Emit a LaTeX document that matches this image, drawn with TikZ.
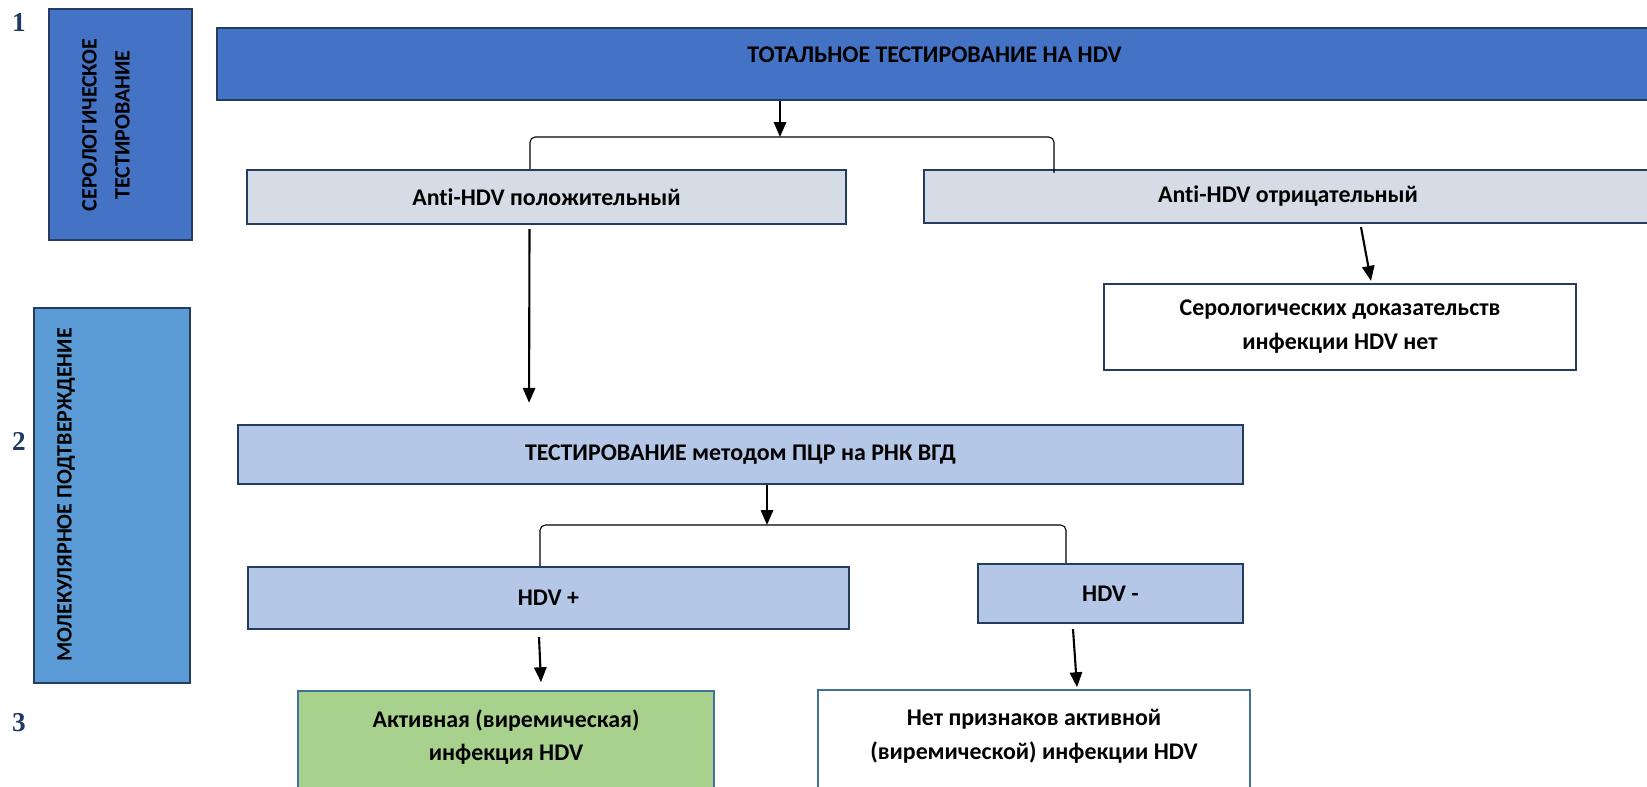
\documentclass[tikz,border=0pt]{standalone}
\usepackage{fontspec}
\setmainfont[Ligatures=NoCommon]{Carlito}
\newfontfamily\numfont{Liberation Serif}
\usepackage{xcolor}
\usepackage{tikz}
\usetikzlibrary{arrows.meta, calc}
\definecolor{headColor}{RGB}{68, 114, 196}
\definecolor{sideColor}{RGB}{91, 155, 213}
\definecolor{antiColor}{RGB}{214, 220, 229}
\definecolor{pcrColor}{RGB}{180, 199, 231}
\definecolor{activeColor}{RGB}{169, 209, 142}
\definecolor{lineColor}{RGB}{36, 60, 96}
\definecolor{softLine}{RGB}{65, 113, 156}
\definecolor{numColor}{RGB}{31, 56, 100}

\begin{document}
\begin{tikzpicture}[x=0.02cm, y=-0.02cm, font=\bfseries\fontsize{13.6}{19.3}\selectfont,
		box/.style={draw=lineColor, line width=1.3pt, rectangle, inner sep=0pt, align=center},
		resbox/.style={draw=softLine, line width=0.9pt, rectangle, inner sep=0pt, align=center},
		arr/.style={-{Triangle[length=8.5pt, width=7pt]}, line width=1.2pt},
		fork/.style={line width=0.6pt, rounded corners=3pt},
		num/.style={text=numColor, font=\numfont\bfseries\fontsize{15.5}{15.5}\selectfont},
		sidetext/.style={rotate=90, align=center, font=\bfseries\fontsize{12.5}{18.7}\selectfont}]
					\useasboundingbox (0, 0) rectangle (1647, 787);
					
					% Stage numbers
					\node[num] (n1) at (19, 23) {1};
					\node[num] (n2) at (19, 441) {2};
					\node[num] (n3) at (19, 723) {3};
					
					% Side bars
					\node[box, fill=headColor, minimum width=2.86cm, minimum height=4.62cm] (ser) at (120.5, 124.5) {};
					\node[sidetext] (sertxt) at (106, 125) {СЕРОЛОГИЧЕСКОЕ\\ТЕСТИРОВАНИЕ};
					\node[box, fill=sideColor, minimum width=3.12cm, minimum height=7.5cm] (mol) at (112, 495.5) {};
					\node[sidetext] (moltxt) at (66, 495) {МОЛЕКУЛЯРНОЕ ПОДТВЕРЖДЕНИЕ};
					
					% Serology
					\node[box, fill=headColor, minimum width=28.7cm, minimum height=1.44cm,
						label={[yshift=5pt]center:{ТОТАЛЬНОЕ ТЕСТИРОВАНИЕ НА HDV}}] (total) at (934.5, 64) {};
					\node[box, fill=antiColor, minimum width=11.98cm, minimum height=1.08cm] (pos) at (546.5, 197) {Anti-HDV положительный};
					\node[box, fill=antiColor, minimum width=14.56cm, minimum height=1.06cm] (neg) at (1288, 196.5) {Anti-HDV отрицательный};
					\node[box, fill=white, minimum width=9.44cm, minimum height=1.72cm] (none) at (1340, 327) {Серологических доказательств\\инфекции HDV нет};
					
					% Molecular confirmation
					\node[box, fill=pcrColor, minimum width=20.1cm, minimum height=1.18cm] (pcr) at (740.5, 454.5) {ТЕСТИРОВАНИЕ методом ПЦР на РНК ВГД};
					\node[box, fill=pcrColor, minimum width=12.02cm, minimum height=1.24cm] (hp) at (548.5, 598) {HDV +};
					\node[box, fill=pcrColor, minimum width=5.3cm, minimum height=1.18cm] (hm) at (1110.5, 593.5) {HDV -};
					
					% Outcomes
					\node[resbox, fill=activeColor, minimum width=8.32cm, minimum height=2.18cm,
						label={[align=center, yshift=4.8pt]center:{Активная (виремическая)\\инфекция HDV}}] (act) at (506, 745.5) {};
					\node[resbox, fill=white, minimum width=8.64cm, minimum height=2.2cm,
						label={[align=center, yshift=4.8pt]center:{Нет признаков активной\\(виремической) инфекции HDV}}] (nosign) at (1034, 745) {};
					
					% Forks
					\coordinate (fork1) at (780, 137);
					\coordinate (fork1l) at (530, 137);
					\coordinate (fork1r) at (1054, 137);
					\draw[arr] (total.south -| fork1) -- (fork1);
					\draw[fork] (fork1l |- pos.north) -- (fork1l) -- (fork1r) -- ($(fork1r |- neg.north)+(0, 4)$);
					
					\coordinate (fork2) at (767, 525);
					\coordinate (fork2l) at (540, 525);
					\coordinate (fork2r) at (1066, 525);
					\draw[arr] (pcr.south -| fork2) -- (fork2);
					\draw[fork] (fork2l |- hp.north) -- (fork2l) -- (fork2r) -- (fork2r |- hm.north);
					
					% Arrows
					\draw[arr] ($(neg.south)+(73, 3)$) -- ($(none.north)+(31, -2)$);
					\draw[arr, shorten >=12pt] ($(pos.south)+(-17, 4)$) -- ($(pcr.north)+(-211.5, 0)$);
					\draw[arr] ($(hp.south)+(-9.5, 7)$) -- ($(act.north)+(35, -8)$);
					\draw[arr] ($(hm.south)+(-37.5, 5)$) -- ($(nosign.north)+(43, -2)$);
				\end{tikzpicture}
\end{document}
